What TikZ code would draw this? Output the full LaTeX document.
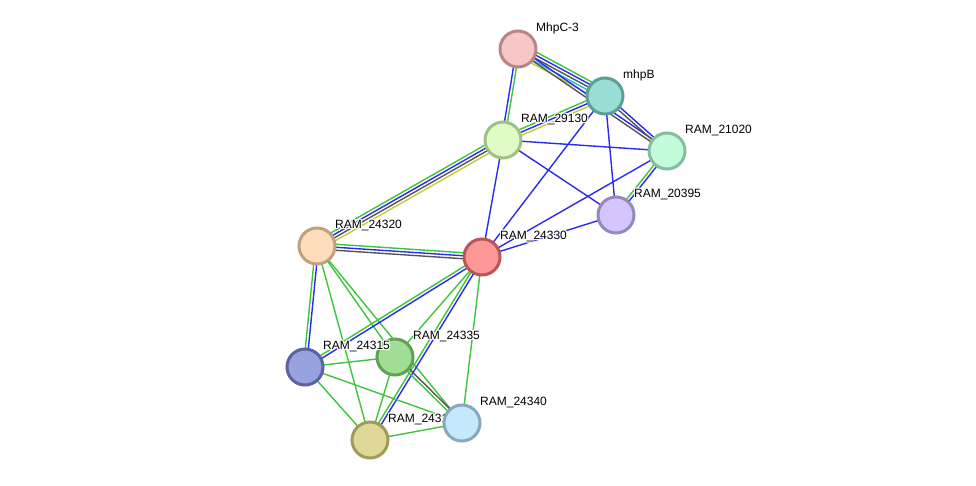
\documentclass[tikz,border=0pt]{standalone}
\usepackage{fontspec}
\setmainfont{Liberation Sans}
\usetikzlibrary{calc}
\definecolor{eg}{HTML}{3DC63D}
\definecolor{eb}{HTML}{2B2BF0}
\definecolor{ek}{HTML}{555555}
\definecolor{ec}{HTML}{22BBCC}
\definecolor{ey}{HTML}{C2CC33}
\tikzset{
  edgeline/.style={line width=1.4pt},
  nd/.style={circle,minimum size=36pt,inner sep=0pt,line width=3pt},
  lbl/.style={anchor=west,inner sep=0pt,font=\fontsize{12}{14}\selectfont}
}
\newcommand\sedge[3]{%
  \foreach \ecol [count=\i] in {#3} {\xdef\nlines{\i}}%
  \foreach \ecol [count=\i] in {#3} {%
    \pgfmathsetmacro\off{(\i-(\nlines+1)/2)*3}%
    \draw[edgeline,\ecol] ($(#1)!\off pt!90:(#2)$) -- ($(#2)!\off pt!-90:(#1)$);
  }%
}
\newcommand\lab[3]{%
  \foreach \dx/\dy [count=\k] in {1/0,-1/0,0/1,0/-1,1/1,1/-1,-1/1,-1/-1}{%
    \node[lbl,text=white] (#1h\k) at ($(#2)+(18+\dx,-21+\dy)$) {#3};}%
  \node[lbl] (#1) at ($(#2)+(18,-21)$) {#3};%
}
\begin{document}
\begin{tikzpicture}[x=1pt,y=-1pt]
\fill[white] (0,0) rectangle (976,485);
\useasboundingbox (0,0) rectangle (976,485);
% node positions
\coordinate (pmhpc) at (518,49);
\coordinate (pmhpb) at (605,96);
\coordinate (p29130) at (503,140);
\coordinate (p21020) at (667,151);
\coordinate (p20395) at (616,215);
\coordinate (p24320) at (317,246);
\coordinate (p24330) at (482,257);
\coordinate (p24315) at (305,367);
\coordinate (p24335) at (395,357);
\coordinate (p24340) at (462,423);
\coordinate (p24310) at (370,440);
% edges
\sedge{pmhpb}{pmhpc}{eg,eb,ek,ec,ey}
\sedge{p21020}{pmhpc}{eb,ek}
\sedge{pmhpc}{p29130}{eb,eg}
\sedge{pmhpb}{p29130}{eg,eb,ey}
\sedge{p29130}{p24320}{eg,eb,ek,ey}
\sedge{p24330}{p24320}{eg,eb,ek}
\sedge{p29130}{p24330}{eb}
\sedge{p29130}{p21020}{eb}
\sedge{p29130}{p20395}{eb}
\sedge{pmhpb}{p24330}{eb}
\sedge{pmhpb}{p20395}{eb}
\sedge{p21020}{pmhpb}{eb,ek}
\sedge{p21020}{p24330}{eb}
\sedge{p20395}{p21020}{eb,eg}
\sedge{p20395}{p24330}{eb}
\sedge{p24320}{p24315}{eg,eb}
\sedge{p24320}{p24335}{eg}
\sedge{p24320}{p24310}{eg}
\sedge{p24320}{p24340}{eg}
\sedge{p24330}{p24315}{eg,eb}
\sedge{p24330}{p24335}{eg}
\sedge{p24330}{p24310}{eg,eb}
\sedge{p24330}{p24340}{eg}
\sedge{p24315}{p24335}{eg}
\sedge{p24315}{p24310}{eg}
\sedge{p24315}{p24340}{eg}
\sedge{p24335}{p24310}{eg}
\sedge{p24335}{p24340}{eg,ek}
\sedge{p24310}{p24340}{eg}
% nodes and labels
\node[nd,fill={rgb,255:red,247;green,198;blue,199},draw={rgb,255:red,185;green,133;blue,135}] (mhpc) at (pmhpc) {};
\lab{lmhpc}{mhpc}{MhpC-3}
\node[nd,fill={rgb,255:red,152;green,222;blue,213},draw={rgb,255:red,92;green,159;blue,151}] (mhpb) at (pmhpb) {};
\lab{lmhpb}{mhpb}{mhpB}
\node[nd,fill={rgb,255:red,224;green,251;blue,197},draw={rgb,255:red,162;green,192;blue,136}] (n29130) at (p29130) {};
\lab{l29130}{n29130}{RAM\_29130}
\node[nd,fill={rgb,255:red,195;green,252;blue,219},draw={rgb,255:red,133;green,190;blue,157}] (n21020) at (p21020) {};
\lab{l21020}{n21020}{RAM\_21020}
\node[nd,fill={rgb,255:red,212;green,197;blue,250},draw={rgb,255:red,151;green,135;blue,189}] (n20395) at (p20395) {};
\lab{l20395}{n20395}{RAM\_20395}
\node[nd,fill={rgb,255:red,254;green,221;blue,189},draw={rgb,255:red,191;green,160;blue,128}] (n24320) at (p24320) {};
\lab{l24320}{n24320}{RAM\_24320}
\node[nd,fill={rgb,255:red,253;green,151;blue,151},draw={rgb,255:red,188;green,86;blue,86}] (n24330) at (p24330) {};
\lab{l24330}{n24330}{RAM\_24330}
\node[nd,fill={rgb,255:red,160;green,222;blue,149},draw={rgb,255:red,98;green,160;blue,87}] (n24335) at (p24335) {};
\lab{l24335}{n24335}{RAM\_24335}
\node[nd,fill={rgb,255:red,152;green,162;blue,223},draw={rgb,255:red,90;green,99;blue,160}] (n24315) at (p24315) {};
\lab{l24315}{n24315}{RAM\_24315}
\node[nd,fill={rgb,255:red,223;green,217;blue,151},draw={rgb,255:red,160;green,155;blue,90}] (n24310) at (p24310) {};
\lab{l24310}{n24310}{RAM\_24310}
\node[nd,fill={rgb,255:red,196;green,232;blue,252},draw={rgb,255:red,134;green,169;blue,189}] (n24340) at (p24340) {};
\lab{l24340}{n24340}{RAM\_24340}
\end{tikzpicture}
\end{document}
